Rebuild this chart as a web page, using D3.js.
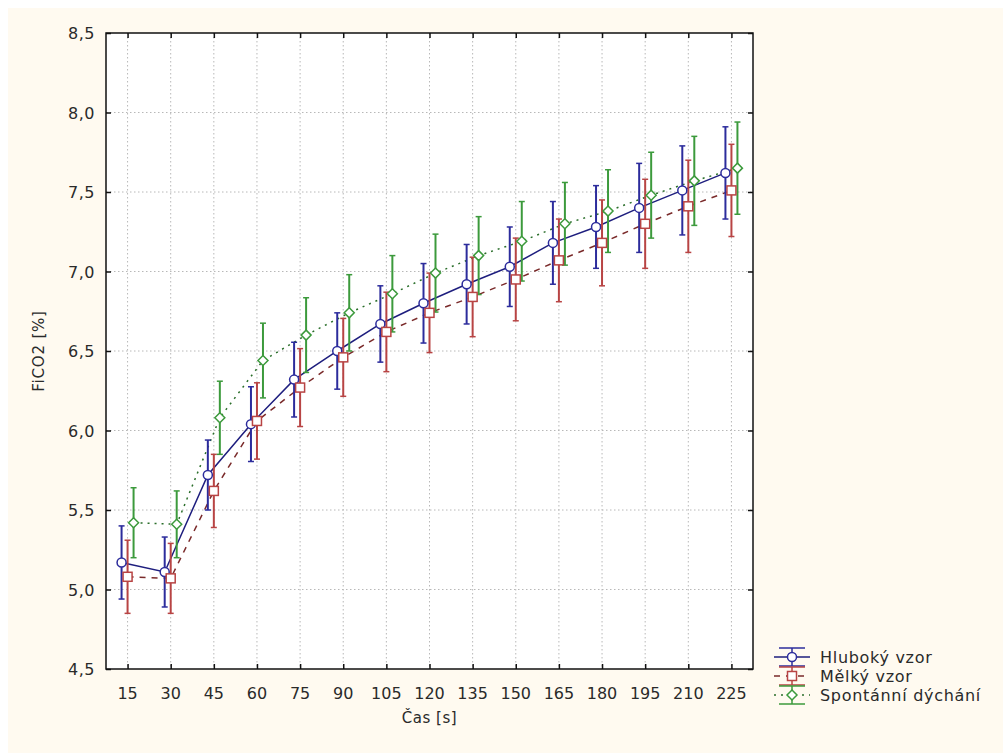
<!DOCTYPE html>
<html>
<head>
<meta charset="utf-8">
<script src="https://cdn.jsdelivr.net/npm/d3@7"></script>
<style>
  body { margin: 0; background: #ffffff; }
  text { font-family: "DejaVu Sans", sans-serif; fill: #2a2a2a; }
</style>
</head>
<body>
<svg id="chart" width="1003" height="753"></svg>
<script>
// casy mereni [s]
const times = [15, 30, 45, 60, 75, 90, 105, 120, 135, 150, 165, 180, 195, 210, 225]
const yTicks = [4.5, 5.0, 5.5, 6.0, 6.5, 7.0, 7.5, 8.0, 8.5]

// prumery FiCO2 [%]
const hlubokyMean = [5.17, 5.11, 5.72, 6.04, 6.32, 6.50, 6.67, 6.80, 6.92, 7.03, 7.18, 7.28, 7.40, 7.51, 7.62]
const melkyMean = [5.08, 5.07, 5.62, 6.06, 6.27, 6.46, 6.62, 6.74, 6.84, 6.95, 7.07, 7.18, 7.30, 7.41, 7.51]
const spontMean = [5.42, 5.41, 6.08, 6.44, 6.60, 6.74, 6.86, 6.99, 7.10, 7.19, 7.30, 7.38, 7.48, 7.57, 7.65]

// +- chyba (whiskery)
const hlubokyErr = [0.23, 0.22, 0.22, 0.235, 0.235, 0.24, 0.24, 0.25, 0.25, 0.25, 0.26, 0.26, 0.28, 0.28, 0.29]
const melkyErr = [0.23, 0.22, 0.23, 0.24, 0.245, 0.245, 0.25, 0.25, 0.25, 0.26, 0.26, 0.27, 0.28, 0.29, 0.29]
const spontErr = [0.22, 0.21, 0.23, 0.235, 0.235, 0.24, 0.24, 0.245, 0.245, 0.25, 0.26, 0.26, 0.27, 0.28, 0.29]

const seriesNames = ["Hluboký vzor", "Mělký vzor", "Spontánní dýchání"]

const svg = d3.select("#chart")
const pLeft = 106, pRight = 753, pTop = 33, pBottom = 669

svg.append("rect").attr("x", 8).attr("y", 8).attr("width", 995).attr("height", 745)
  .attr("fill", "#fffaf0")
svg.append("rect").attr("x", pLeft).attr("y", pTop)
  .attr("width", pRight - pLeft).attr("height", pBottom - pTop).attr("fill", "#ffffff")

const x = d3.scalePoint().domain(times).range([pLeft, pRight]).padding(0.5)
const y = d3.scaleLinear().domain([4.5, 8.5]).range([pBottom, pTop])

// mrizka
const grid = svg.append("g").attr("stroke", "#b8b8b8").attr("stroke-dasharray", "1.5,2.5")
grid.selectAll(".gx").data(times).join("line")
  .attr("x1", d => x(d)).attr("x2", d => x(d)).attr("y1", pTop).attr("y2", pBottom)
grid.selectAll(".gy").data(yTicks.slice(1, -1)).join("line")
  .attr("x1", pLeft).attr("x2", pRight).attr("y1", d => y(d)).attr("y2", d => y(d))

const fmt = d => d3.format(".1f")(d).replace(".", ",")

// osy - ticky dovnitr
svg.append("g").attr("transform", `translate(${pLeft},0)`)
  .call(d3.axisRight(y).tickValues(yTicks).tickSize(5).tickFormat(""))
svg.append("g").attr("transform", `translate(${pRight},0)`)
  .call(d3.axisLeft(y).tickValues(yTicks).tickSize(5).tickFormat(""))
svg.append("g").attr("transform", `translate(0,${pTop})`)
  .call(d3.axisBottom(x).tickSize(5).tickFormat(""))
svg.append("g").attr("transform", `translate(0,${pBottom})`)
  .call(d3.axisTop(x).tickSize(5).tickFormat(""))
svg.selectAll(".domain").remove()
svg.selectAll(".tick line").attr("stroke", "#111").attr("stroke-width", 1.5)

svg.append("rect").attr("x", pLeft).attr("y", pTop)
  .attr("width", pRight - pLeft).attr("height", pBottom - pTop)
  .attr("fill", "none").attr("stroke", "#111").attr("stroke-width", 1.5)

svg.append("g").selectAll("text").data(yTicks).join("text")
  .attr("x", 95).attr("y", d => y(d) + 6)
  .attr("text-anchor", "end").style("font-size", "16px").attr("letter-spacing", "0.5")
  .text(fmt)
svg.append("g").selectAll("text").data(times).join("text")
  .attr("x", d => x(d)).attr("y", 699)
  .attr("text-anchor", "middle").style("font-size", "16px")
  .text(d => d)

svg.append("text").attr("transform", "translate(44,351) rotate(-90)")
  .attr("text-anchor", "middle").style("font-size", "15px").attr("letter-spacing", "0.8")
  .text("FiCO2 [%]")
svg.append("text").attr("x", (pLeft + pRight) / 2).attr("y", 723)
  .attr("text-anchor", "middle").style("font-size", "15px").attr("letter-spacing", "0.5")
  .text("Čas [s]")

const series = [
  {name: seriesNames[0], mean: hlubokyMean, err: hlubokyErr, color: "#2c2c9c", line: "#1e1e7e", dash: null, off: -6, shape: "circle"},
  {name: seriesNames[1], mean: melkyMean, err: melkyErr, color: "#b84444", line: "#7a2a2a", dash: "6,6", off: 0, shape: "square"},
  {name: seriesNames[2], mean: spontMean, err: spontErr, color: "#3c9a3c", line: "#2a6e2a", dash: "2,5", off: 6, shape: "diamond"}
]

function drawMarker(g, shape, cx, cy, color){
  if(shape === "circle"){
    g.append("circle").attr("cx", cx).attr("cy", cy).attr("r", 4.5)
      .attr("fill", "#fff").attr("stroke", color).attr("stroke-width", 1.5)
  }else if(shape === "square"){
    g.append("rect").attr("x", cx - 4.5).attr("y", cy - 4.5).attr("width", 9).attr("height", 9)
      .attr("fill", "#fff").attr("stroke", color).attr("stroke-width", 1.5)
  }else{
    g.append("path").attr("d", `M${cx},${cy - 5}L${cx + 5},${cy}L${cx},${cy + 5}L${cx - 5},${cy}Z`)
      .attr("fill", "#fff").attr("stroke", color).attr("stroke-width", 1.5)
  }
}

const lineGen = d3.line()
series.slice().reverse().forEach(s => {
  const pts = times.map((t, i) => [x(t) + s.off, y(s.mean[i])])
  svg.append("path").attr("d", lineGen(pts)).attr("fill", "none")
    .attr("stroke", s.line).attr("stroke-width", 1.5)
    .attr("stroke-dasharray", s.dash)
})

series.forEach(s => {
  const g = svg.append("g")
  times.forEach((t, i) => {
    const cx = x(t) + s.off
    const y1 = y(s.mean[i] + s.err[i]), y2 = y(s.mean[i] - s.err[i])
    g.append("line").attr("x1", cx).attr("x2", cx).attr("y1", y1).attr("y2", y2)
      .attr("stroke", s.color).attr("stroke-width", 2)
    ;[y1, y2].forEach(yy => g.append("line").attr("x1", cx - 3).attr("x2", cx + 3)
      .attr("y1", yy).attr("y2", yy).attr("stroke", s.color).attr("stroke-width", 1.5))
  })
})
series.forEach(s => {
  const g = svg.append("g")
  times.forEach((t, i) => drawMarker(g, s.shape, x(t) + s.off, y(s.mean[i]), s.color))
})

// legenda
const leg = svg.append("g")
series.forEach((s, i) => {
  const cy = 657 + i * 19, cx = 792
  leg.append("line").attr("x1", cx).attr("x2", cx).attr("y1", cy - 9).attr("y2", cy + 9)
    .attr("stroke", s.color).attr("stroke-width", 1.5)
  ;[cy - 9, cy + 9].forEach(yy => leg.append("line").attr("x1", cx - 13).attr("x2", cx + 13)
    .attr("y1", yy).attr("y2", yy).attr("stroke", s.color).attr("stroke-width", 1.5))
  leg.append("line").attr("x1", 774).attr("x2", 810).attr("y1", cy).attr("y2", cy)
    .attr("stroke", s.line).attr("stroke-width", 1.5).attr("stroke-dasharray", s.dash)
  drawMarker(leg, s.shape, cx, cy, s.color)
  leg.append("text").attr("x", 820).attr("y", cy + 6).style("font-size", "16px")
    .attr("letter-spacing", "0.7").text(s.name)
})
</script>
</body>
</html>
